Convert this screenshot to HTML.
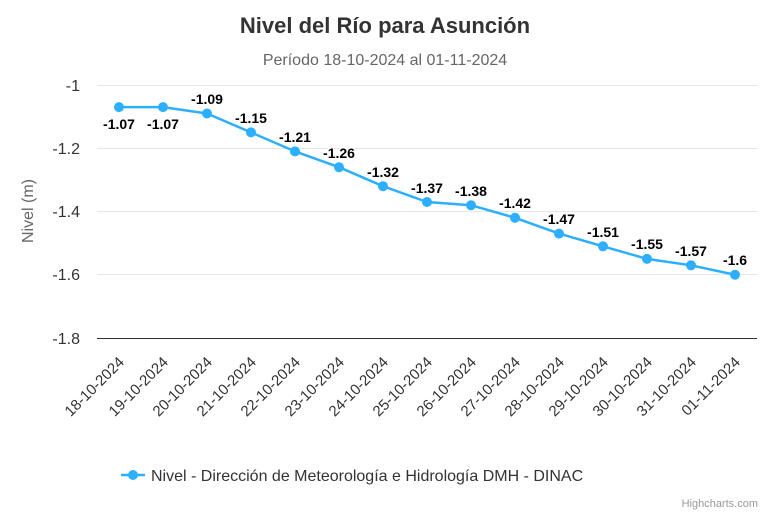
<!DOCTYPE html>
<html><head><meta charset="utf-8"><style>
body{margin:0;background:#fff}
svg{font-family:"Liberation Sans",Arial,sans-serif;display:block}
.dl{font-size:14px;font-weight:bold;fill:#000;stroke:#fff;stroke-width:3px;paint-order:stroke;text-anchor:middle}
.xl{font-size:15px;fill:#333;text-anchor:end}
.yl{font-size:16px;fill:#333;text-anchor:end}
</style></head><body>
<svg width="770" height="513" viewBox="0 0 770 513">
<text x="385" y="33" text-anchor="middle" font-size="22" font-weight="bold" fill="#333">Nivel del Río para Asunción</text>
<text x="385" y="65" text-anchor="middle" font-size="16" fill="#666">Período 18-10-2024 al 01-11-2024</text>
<g stroke="#e6e6e6" stroke-width="1">
<line x1="97" x2="757" y1="85.5" y2="85.5"/><line x1="97" x2="757" y1="148.5" y2="148.5"/><line x1="97" x2="757" y1="211.5" y2="211.5"/><line x1="97" x2="757" y1="274.5" y2="274.5"/>
</g>
<line x1="97" x2="757" y1="338.5" y2="338.5" stroke="#333" stroke-width="1"/>
<g class="yl"><text x="80" y="91">-1</text><text x="80" y="154">-1.2</text><text x="80" y="217">-1.4</text><text x="80" y="280">-1.6</text><text x="80" y="344">-1.8</text></g>
<text transform="translate(33,211) rotate(-90)" text-anchor="middle" font-size="16" fill="#666">Nivel (m)</text>
<polyline fill="none" stroke="#2caffe" stroke-width="2.5" stroke-linejoin="round" points="119,107.1 163,107.1 207,113.5 251,132.4 295,151.4 339,167.2 383,186.2 427,202 471,205.2 515,217.8 559,233.6 603,246.3 647,258.9 691,265.3 735,274.75"/>
<g fill="#2caffe">
<circle cx="119" cy="107.1" r="5"/><circle cx="163" cy="107.1" r="5"/><circle cx="207" cy="113.5" r="5"/><circle cx="251" cy="132.4" r="5"/><circle cx="295" cy="151.4" r="5"/><circle cx="339" cy="167.2" r="5"/><circle cx="383" cy="186.2" r="5"/><circle cx="427" cy="202" r="5"/><circle cx="471" cy="205.2" r="5"/><circle cx="515" cy="217.8" r="5"/><circle cx="559" cy="233.6" r="5"/><circle cx="603" cy="246.3" r="5"/><circle cx="647" cy="258.9" r="5"/><circle cx="691" cy="265.3" r="5"/><circle cx="735" cy="274.75" r="5"/>
</g>
<g class="dl">
<text x="119" y="129">-1.07</text><text x="163" y="129">-1.07</text><text x="207" y="104">-1.09</text><text x="251" y="123">-1.15</text><text x="295" y="142">-1.21</text><text x="339" y="158">-1.26</text><text x="383" y="177">-1.32</text><text x="427" y="193">-1.37</text><text x="471" y="196">-1.38</text><text x="515" y="208">-1.42</text><text x="559" y="224">-1.47</text><text x="603" y="237">-1.51</text><text x="647" y="249">-1.55</text><text x="691" y="256">-1.57</text><text x="735" y="265">-1.6</text>
</g>
<g class="xl">
<text transform="translate(125,363) rotate(-45)">18-10-2024</text>
<text transform="translate(169,363) rotate(-45)">19-10-2024</text>
<text transform="translate(213,363) rotate(-45)">20-10-2024</text>
<text transform="translate(257,363) rotate(-45)">21-10-2024</text>
<text transform="translate(301,363) rotate(-45)">22-10-2024</text>
<text transform="translate(345,363) rotate(-45)">23-10-2024</text>
<text transform="translate(389,363) rotate(-45)">24-10-2024</text>
<text transform="translate(433,363) rotate(-45)">25-10-2024</text>
<text transform="translate(477,363) rotate(-45)">26-10-2024</text>
<text transform="translate(521,363) rotate(-45)">27-10-2024</text>
<text transform="translate(565,363) rotate(-45)">28-10-2024</text>
<text transform="translate(609,363) rotate(-45)">29-10-2024</text>
<text transform="translate(653,363) rotate(-45)">30-10-2024</text>
<text transform="translate(697,363) rotate(-45)">31-10-2024</text>
<text transform="translate(741,363) rotate(-45)">01-11-2024</text>
</g>
<line x1="121" x2="145" y1="475" y2="475" stroke="#2caffe" stroke-width="2.5"/>
<circle cx="133" cy="475" r="5" fill="#2caffe"/>
<text x="151" y="481" font-size="16" fill="#333">Nivel - Dirección de Meteorología e Hidrología DMH - DINAC</text>
<text x="758" y="507" text-anchor="end" font-size="11" fill="#999">Highcharts.com</text>
</svg>
</body></html>
